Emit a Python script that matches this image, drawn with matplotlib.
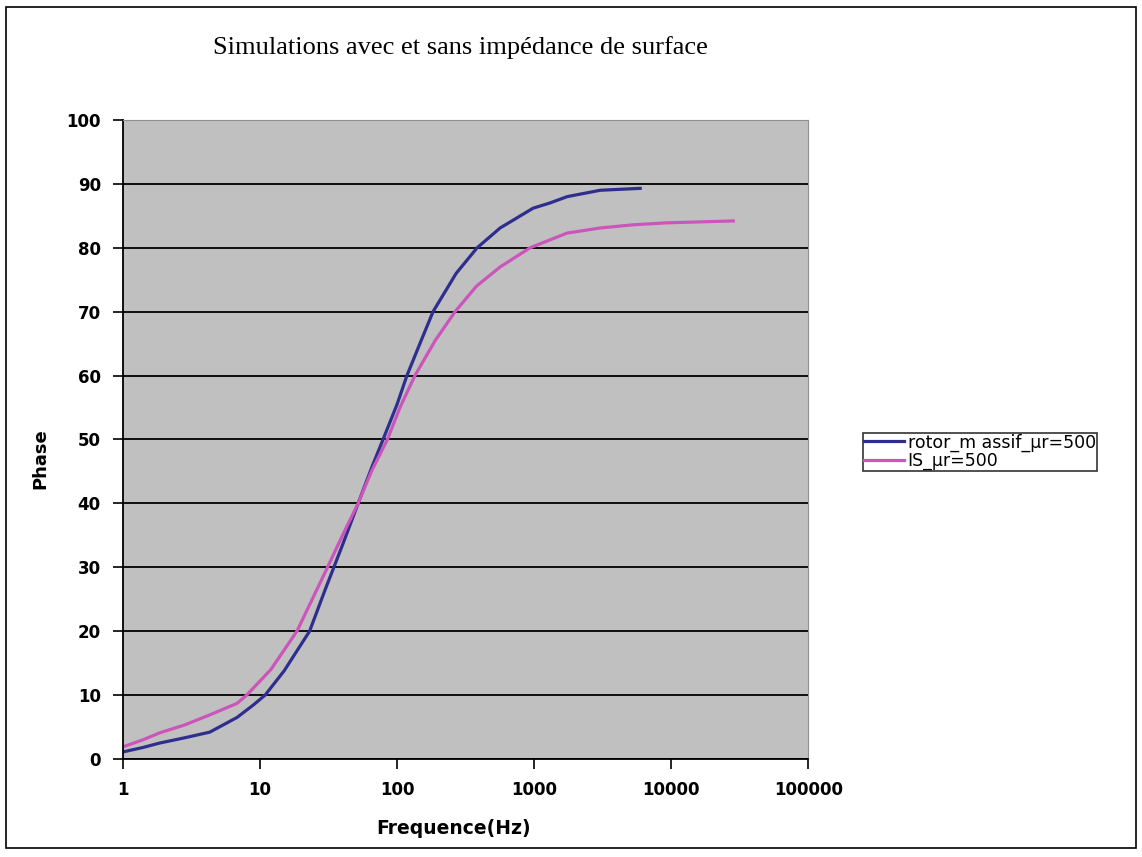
import numpy as np
import matplotlib
matplotlib.use('Agg')
from matplotlib import pyplot as plt
from matplotlib.patches import Rectangle

# values
freq_rotor = [1, 1.4, 1.86, 2.8, 4.3, 6.8, 9, 10.9, 15, 23, 30, 40, 52, 65, 79, 100, 118, 150, 183, 270, 384, 565, 984, 1300, 1740, 3034, 5940]
phase_rotor = [1.1, 1.8, 2.5, 3.3, 4.2, 6.5, 8.5, 10.0, 13.8, 20.0, 26.6, 33.5, 40.0, 45.5, 50.0, 55.5, 60.0, 65.5, 70.0, 76.0, 80.0, 83.1, 86.2, 87.0, 88.0, 89.0, 89.3]
freq_is = [1, 1.4, 1.86, 2.8, 4.3, 6.8, 8, 12, 18.6, 30, 40, 52, 65, 85, 105, 135, 190, 265, 380, 565, 935, 1740, 3034, 5300, 9200, 28400]
phase_is = [1.9, 3.0, 4.1, 5.3, 6.9, 8.7, 10.0, 14.0, 20.0, 29.3, 35.0, 40.0, 45.0, 50.0, 55.0, 60.0, 65.5, 70.0, 74.0, 77.0, 80.0, 82.3, 83.1, 83.6, 83.9, 84.2]

labels = ['rotor_m assif_\u00b5r=500', 'IS_\u00b5r=500']
xticks = [1, 10, 100, 1000, 10000, 100000]
yticks = list(range(0, 101, 10))

fig = plt.figure(figsize=(11.42, 8.57), dpi=100)
fig.patches.append(Rectangle((0.005, 0.01), 0.99, 0.982, transform=fig.transFigure,
                             fill=False, edgecolor='black', linewidth=1.2))

ax = fig.add_axes([0.1077, 0.1144, 0.6, 0.7456])
ax.set_facecolor('#C0C0C0')
ax.plot(freq_rotor, phase_rotor, color='#2E2E8E', linewidth=2.3)
ax.plot(freq_is, phase_is, color='#CC55BB', linewidth=2.3)

ax.set_xscale('log')
ax.set_xlim(1, 100000)
ax.set_ylim(0, 100)
ax.set_xticks(xticks)
ax.set_xticklabels([str(t) for t in xticks])
ax.minorticks_off()
ax.set_yticks(yticks)
ax.yaxis.grid(True, color='black', linewidth=1.3)
ax.set_axisbelow(True)

for s in ['top', 'right']:
    ax.spines[s].set_color('#909090')
for s in ['left', 'bottom']:
    ax.spines[s].set_linewidth(1.3)

ax.tick_params(axis='both', direction='out', length=7, width=1.2, labelsize=12, pad=9)
for lab in ax.get_xticklabels() + ax.get_yticklabels():
    lab.set_fontfamily('DejaVu Sans')
    lab.set_fontweight('bold')

ax.set_xlabel('Frequence(Hz)', fontsize=13.5, fontweight='bold', family='DejaVu Sans')
ax.xaxis.set_label_coords(0.482, -0.094)
ax.set_ylabel('Phase', fontsize=13, fontweight='bold', family='DejaVu Sans')
ax.yaxis.set_label_coords(-0.108, 0.47)

fig.text(0.403, 0.945, 'Simulations avec et sans impédance de surface', ha='center', va='center',
         fontsize=19, family='Liberation Serif')

leg = ax.legend(labels, loc='center left', bbox_to_anchor=(0.756, 0.473), bbox_transform=fig.transFigure,
                fancybox=False, frameon=True, edgecolor='black', fontsize=12.5,
                handlelength=2.3, handletextpad=0.2, borderpad=0.05, labelspacing=0.0,
                borderaxespad=0)
leg.get_frame().set_linewidth(1.2)
for t in leg.get_texts():
    t.set_fontfamily('DejaVu Sans')

fig.savefig('out.png', dpi=100)
